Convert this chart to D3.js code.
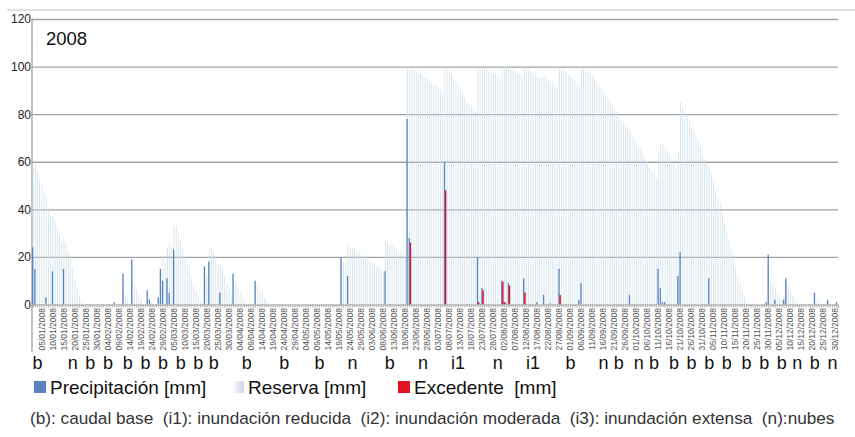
<!DOCTYPE html>
<html>
<head>
<meta charset="utf-8">
<script src="https://cdn.jsdelivr.net/npm/d3@7"></script>
<style>
  body { margin: 0; background: #fff; }
  svg { display: block; font-family: "Liberation Sans", Arial, sans-serif; }
</style>
</head>
<body>
<div id="chart"></div>
<script>
// balance diario 2008 (mm)
const anio = 2008;

// dias con lluvia [dd/mm, mm]
const precipitacion = [
    ['01/01', 24], ['02/01', 15], ['07/01', 3], ['10/01', 14], ['15/01', 15],
    ['07/02', 1], ['11/02', 13], ['15/02', 19], ['22/02', 6], ['23/02', 2],
    ['27/02', 3], ['28/02', 15], ['29/02', 10], ['02/03', 11], ['03/03', 5],
    ['05/03', 23], ['19/03', 16], ['21/03', 18], ['26/03', 5], ['01/04', 13],
    ['11/04', 10], ['20/05', 20], ['23/05', 12], ['09/06', 14], ['19/06', 78],
    ['20/06', 28], ['06/07', 60], ['21/07', 20], ['23/07', 7], ['01/08', 10],
    ['02/08', 1], ['04/08', 9], ['11/08', 11], ['17/08', 1], ['20/08', 4],
    ['23/08', 0.5], ['27/08', 15], ['05/09', 2], ['06/09', 9], ['28/09', 4],
    ['11/10', 15], ['12/10', 7], ['13/10', 1], ['14/10', 1], ['20/10', 12],
    ['21/10', 22], ['03/11', 11], ['29/11', 1], ['30/11', 21], ['03/12', 2],
    ['07/12', 2], ['08/12', 11], ['21/12', 5], ['27/12', 2], ['31/12', 1]
];

const excedente = [
    ['20/06', 26], ['06/07', 48], ['21/07', 1], ['23/07', 6], ['01/08', 9.5],
    ['02/08', 1], ['04/08', 8], ['11/08', 5], ['27/08', 4]
];

// reserva diaria, un array por mes
const reservaEne = [58, 60, 56, 53, 50, 47, 45, 41, 38, 37, 35, 32, 29, 26, 28, 26, 22, 19, 15, 10, 7, 4, 1, 0, 0, 0, 0, 0, 0, 0, 0];
const reservaFeb = [0, 0, 0, 0, 0, 0, 0, 0, 0, 0, 6, 4, 2, 0, 10, 8, 6, 4, 2, 0, 0, 3, 3, 1, 0, 0, 2, 14, 20];
const reservaMar = [17, 24, 26, 23, 33, 33, 30, 27, 24, 20, 17, 14, 11, 8, 6, 3, 1, 0, 14, 12, 24, 24, 22, 20, 17, 17, 15, 12, 9, 6, 3];
const reservaAbr = [11, 9, 7, 5, 3, 1, 0, 0, 0, 0, 9, 8, 6, 5, 3, 2, 1, 0, 0, 0, 0, 0, 0, 0, 0, 0, 0, 0, 0, 0];
const reservaMay = [0, 0, 0, 0, 0, 0, 0, 0, 0, 0, 0, 0, 0, 0, 0, 0, 0, 0, 0, 19, 18, 17, 25, 24, 24, 23, 22, 22, 21, 20, 20];
const reservaJun = [19, 18, 18, 17, 16, 16, 15, 14, 27, 26, 25, 25, 24, 23, 22, 22, 21, 20, 99, 100, 99, 99, 98, 97, 97, 96, 95, 95, 94, 93];
const reservaJul = [92, 92, 91, 90, 89, 100, 99, 98, 97, 95, 94, 92, 90, 89, 87, 85, 84, 83, 82, 81, 100, 100, 100, 99, 99, 98, 98, 97, 97, 96, 95];
const reservaAgo = [100, 100, 100, 100, 99, 99, 98, 97, 97, 96, 100, 99, 99, 98, 97, 96, 96, 95, 95, 96, 95, 94, 94, 93, 92, 91, 100, 99, 99, 98, 97];
const reservaSep = [96, 95, 94, 93, 92, 100, 99, 98, 98, 97, 96, 95, 93, 92, 91, 89, 88, 87, 85, 84, 82, 81, 79, 77, 76, 75, 74, 73, 71, 69];
const reservaOct = [68, 66, 65, 63, 61, 60, 58, 56, 55, 53, 64, 68, 67, 66, 65, 63, 61, 59, 57, 64, 85, 83, 81, 79, 77, 74, 73, 71, 69, 66, 63];
const reservaNov = [61, 59, 58, 55, 52, 48, 45, 42, 38, 34, 31, 27, 23, 19, 16, 12, 9, 6, 3, 1, 0, 0, 0, 0, 0, 0, 0, 0, 1, 12];
const reservaDic = [10, 8, 7, 5, 3, 2, 3, 10, 8, 6, 4, 2, 1, 0, 0, 0, 0, 0, 0, 0, 3, 2, 1, 0, 0, 0, 1, 0, 0, 0, 0];

const yTicks = [0, 20, 40, 60, 80, 100, 120];

// estado observado en imagenes [dd/mm, codigo]
const observaciones = [
    ['03/01', 'b'], ['19/01', 'n'], ['27/01', 'b'], ['04/02', 'b'], ['13/02', 'b'],
    ['21/02', 'b'], ['29/02', 'b'], ['08/03', 'b'], ['16/03', 'b'], ['23/03', 'b'],
    ['07/04', 'b'], ['24/04', 'b'], ['10/05', 'b'], ['25/05', 'n'], ['11/06', 'b'],
    ['26/06', 'n'], ['12/07', 'i1'], ['30/07', 'n'], ['15/08', 'i1'], ['01/09', 'b'],
    ['16/09', 'n'], ['23/09', 'b'], ['02/10', 'n'], ['09/10', 'b'], ['18/10', 'b'],
    ['26/10', 'b'], ['03/11', 'b'], ['11/11', 'b'], ['20/11', 'b'], ['28/11', 'b'],
    ['06/12', 'b'], ['13/12', 'n'], ['21/12', 'b'], ['29/12', 'n']
];

const series = ['Precipitación [mm]', 'Reserva [mm]', 'Excedente  [mm]'];
const nota = '(b): caudal base  (i1): inundación reducida  (i2): inundación moderada  (i3): inundación extensa  (n):nubes';

const colors = { p: '#5a84bf', r: '#cddeea', e: '#e01420' };

const reserva = [].concat(reservaEne, reservaFeb, reservaMar, reservaAbr, reservaMay, reservaJun,
    reservaJul, reservaAgo, reservaSep, reservaOct, reservaNov, reservaDic);

const fmt = d3.timeFormat('%d/%m');
const dias = d3.timeDay.range(new Date(anio, 0, 1), new Date(anio + 1, 0, 1)).map(fmt);

const width = 855, height = 437;
const margin = { left: 32, right: 17, top: 19, bottom: 132.5 };

const svg = d3.select('#chart').append('svg')
    .attr('width', width)
    .attr('height', height);

let x = d3.scaleBand().domain(dias).range([margin.left, width - margin.right]);
let y = d3.scaleLinear().domain([0, 120]).range([height - margin.bottom, margin.top]);
let bw = x.bandwidth();
let sub = d3.scaleBand().domain(['p', 'r', 'e']).range([0, bw]);

// marco superior
svg.append('line')
    .attr('x1', 7).attr('x2', width).attr('y1', 10).attr('y2', 10)
    .attr('stroke', '#e2e2e2').attr('stroke-width', 2);

// grilla
svg.append('g')
    .attr('transform', 'translate(' + margin.left + ',0)')
    .call(d3.axisLeft(y).tickValues(yTicks.slice(1)).tickSize(-(width - margin.left - margin.right)).tickFormat(''))
    .call(g => g.select('.domain').remove())
    .selectAll('line').attr('stroke', '#a3a3a3').attr('stroke-width', 1.3);

// eje y
svg.append('g')
    .attr('transform', 'translate(' + margin.left + ',0)')
    .call(d3.axisLeft(y).tickValues(yTicks).tickSize(0).tickPadding(1))
    .call(g => g.select('.domain').remove())
    .selectAll('text')
    .attr('fill', '#222').style('font-size', '12px')
    .style('font-family', '"Liberation Sans", Arial, sans-serif');

svg.append('line')
    .attr('x1', margin.left).attr('x2', margin.left)
    .attr('y1', y(120)).attr('y2', 352)
    .attr('stroke', '#9a9a9a').attr('stroke-width', 1.2);

// barras
svg.append('g').selectAll('rect')
    .data(reserva.map((v, i) => [dias[i], v]).filter(d => d[1] > 0))
    .enter().append('rect')
    .attr('x', d => x(d[0]) + sub('r'))
    .attr('width', sub.bandwidth())
    .attr('y', d => y(d[1]))
    .attr('height', d => y(0) - y(d[1]))
    .attr('fill', colors.r);

svg.append('g').selectAll('rect')
    .data(precipitacion)
    .enter().append('rect')
    .attr('x', d => x(d[0]) + sub('p'))
    .attr('width', sub.bandwidth() * 1.8)
    .attr('y', d => y(d[1]))
    .attr('height', d => y(0) - y(d[1]))
    .attr('fill', colors.p);

svg.append('g').selectAll('rect')
    .data(excedente)
    .enter().append('rect')
    .attr('x', d => x(d[0]) + sub('e') - 0.4)
    .attr('width', sub.bandwidth() * 2)
    .attr('y', d => y(d[1]))
    .attr('height', d => y(0) - y(d[1]))
    .attr('fill', colors.e);

// eje x: marcas diarias
svg.append('g')
    .attr('transform', 'translate(0,' + y(0) + ')')
    .call(d3.axisBottom(x).tickSize(3).tickFormat(''))
    .call(g => g.select('.domain').attr('stroke', '#999'))
    .selectAll('line').attr('stroke', '#b0b0b0');

// etiquetas cada 5 dias
svg.append('g')
    .attr('transform', 'translate(0,' + y(0) + ')')
    .call(d3.axisBottom(x).tickValues(dias.filter((d, i) => (i + 1) % 5 === 0)).tickSize(0)
        .tickFormat(d => d + '/' + anio))
    .call(g => g.select('.domain').remove())
    .selectAll('text')
    .attr('transform', 'rotate(-90)')
    .attr('x', -3.5)
    .attr('y', 0)
    .attr('dy', '0.33em')
    .style('text-anchor', 'end')
    .style('font-size', '8.5px')
    .style('font-family', '"Liberation Sans", Arial, sans-serif')
    .attr('fill', '#555');

// observaciones
svg.append('g').selectAll('text')
    .data(observaciones)
    .enter().append('text')
    .attr('x', d => x(d[0]) + bw / 2)
    .attr('y', 369)
    .attr('text-anchor', 'middle')
    .style('font-size', '18px')
    .attr('fill', '#111')
    .text(d => d[1]);

// titulo
svg.append('text')
    .attr('x', 46).attr('y', 45)
    .style('font-size', '18.5px')
    .attr('fill', '#111')
    .text(anio);

// leyenda
const defs = svg.append('defs');
const grad = defs.append('linearGradient').attr('id', 'gradReserva')
    .attr('x1', 0).attr('y1', 0).attr('x2', 1).attr('y2', 0);
grad.append('stop').attr('offset', '0%').attr('stop-color', '#ffffff');
grad.append('stop').attr('offset', '100%').attr('stop-color', '#cdd5ee');

const legendX = [34, 232, 398];
const legendFill = [colors.p, 'url(#gradReserva)', colors.e];
const legend = svg.append('g').selectAll('g')
    .data(series)
    .enter().append('g')
    .attr('transform', (d, i) => 'translate(' + legendX[i] + ',381)');
legend.append('rect')
    .attr('width', 12).attr('height', 12)
    .attr('fill', (d, i) => legendFill[i]);
legend.append('text')
    .attr('x', 16).attr('y', 12.5)
    .style('font-size', '19px')
    .style('white-space', 'pre')
    .attr('fill', '#111')
    .text(d => d);

// nota
svg.append('text')
    .attr('x', 30).attr('y', 424)
    .style('font-size', '17.2px')
    .style('white-space', 'pre')
    .attr('fill', '#333')
    .text(nota);
</script>
</body>
</html>
